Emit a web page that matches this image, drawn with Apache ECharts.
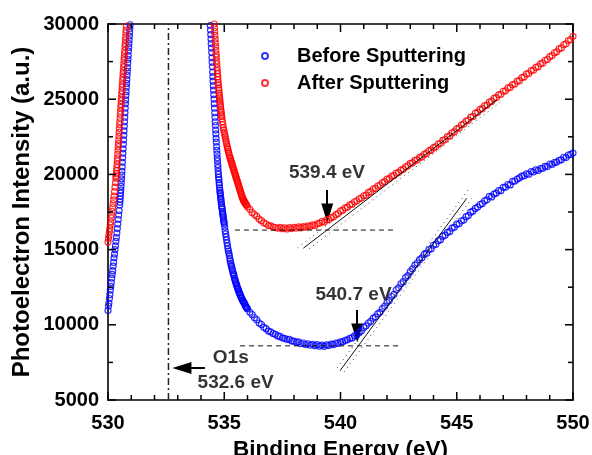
<!DOCTYPE html>
<html>
<head>
<meta charset="utf-8">
<script src="https://cdn.jsdelivr.net/npm/echarts@6/dist/echarts.min.js"></script>
<style>
html, body { margin: 0; padding: 0; background: #fff; }
#chart { width: 592px; height: 455px; }
</style>
</head>
<body>
<div id="chart"></div>
<script>
// O1s peak flanks as [eV, counts]
const beforeLeft = [
  [530.00, 10950], [530.02, 11250], [530.04, 11450], [530.06, 11750], [530.08, 12000], [530.10, 12300],
  [530.12, 12550], [530.14, 12800], [530.16, 13100], [530.18, 13350], [530.20, 13600], [530.22, 13900],
  [530.24, 14150], [530.26, 14450], [530.28, 14700], [530.30, 15000], [530.32, 15250], [530.34, 15550],
  [530.36, 15800], [530.38, 16100], [530.40, 16400], [530.42, 16700], [530.44, 17000], [530.46, 17300],
  [530.48, 17600], [530.50, 17950], [530.51, 18150], [530.52, 18350], [530.53, 18550], [530.54, 18750],
  [530.55, 18950], [530.56, 19200], [530.57, 19450], [530.58, 19700], [530.59, 19950], [530.60, 20200],
  [530.61, 20500], [530.62, 20800], [530.63, 21100], [530.64, 21400], [530.65, 21700], [530.66, 22000],
  [530.67, 22300], [530.68, 22600], [530.69, 22900], [530.70, 23200], [530.71, 23500], [530.72, 23800],
  [530.73, 24100], [530.74, 24400], [530.75, 24700], [530.76, 24950], [530.77, 25250], [530.78, 25500],
  [530.79, 25800], [530.80, 26050], [530.81, 26300], [530.82, 26600], [530.83, 26850], [530.84, 27100],
  [530.85, 27400], [530.86, 27650], [530.87, 27900], [530.88, 28200], [530.89, 28450], [530.90, 28700],
  [530.91, 28950], [530.92, 29200], [530.93, 29450], [530.94, 29700], [530.95, 29950]
];
const afterLeft = [
  [530.00, 15500], [530.02, 15750], [530.04, 15950], [530.06, 16200], [530.08, 16400], [530.10, 16650],
  [530.12, 16850], [530.14, 17100], [530.16, 17300], [530.18, 17550], [530.20, 17800], [530.22, 18050],
  [530.24, 18300], [530.26, 18550], [530.28, 18850], [530.30, 19150], [530.32, 19450], [530.34, 19750],
  [530.35, 19900], [530.36, 20050], [530.37, 20250], [530.38, 20450], [530.39, 20650], [530.40, 20900],
  [530.41, 21100], [530.42, 21350], [530.43, 21600], [530.44, 21850], [530.45, 22050], [530.46, 22300],
  [530.47, 22550], [530.48, 22800], [530.49, 23050], [530.50, 23300], [530.51, 23500], [530.52, 23750],
  [530.53, 24000], [530.54, 24200], [530.55, 24450], [530.56, 24650], [530.57, 24900], [530.58, 25100],
  [530.59, 25350], [530.60, 25550], [530.61, 25800], [530.62, 26000], [530.63, 26250], [530.64, 26450],
  [530.65, 26700], [530.66, 26900], [530.67, 27150], [530.68, 27350], [530.69, 27600], [530.70, 27800],
  [530.71, 28050], [530.72, 28250], [530.73, 28500], [530.74, 28700], [530.75, 28950], [530.76, 29150],
  [530.77, 29400], [530.78, 29600], [530.79, 29850]
];
const beforeRight = [
  [534.40, 29900], [534.41, 29600], [534.42, 29300], [534.43, 29000], [534.44, 28700], [534.45, 28400],
  [534.46, 28100], [534.47, 27750], [534.48, 27450], [534.49, 27150], [534.50, 26800], [534.51, 26500],
  [534.52, 26200], [534.53, 25900], [534.54, 25600], [534.55, 25300], [534.56, 25000], [534.57, 24700],
  [534.58, 24400], [534.59, 24100], [534.60, 23800], [534.61, 23500], [534.62, 23250], [534.63, 22950],
  [534.64, 22700], [534.65, 22400], [534.66, 22150], [534.67, 21850], [534.68, 21600], [534.69, 21350],
  [534.70, 21100], [534.71, 20900], [534.72, 20650], [534.73, 20450], [534.74, 20200], [534.75, 20000],
  [534.76, 19800], [534.77, 19650], [534.78, 19450], [534.79, 19300], [534.80, 19100], [534.81, 18950],
  [534.82, 18800], [534.83, 18700], [534.84, 18550], [534.85, 18400], [534.86, 18300], [534.87, 18150],
  [534.88, 18050], [534.89, 17900], [534.90, 17800], [534.91, 17700], [534.92, 17550], [534.93, 17450],
  [534.94, 17350], [534.95, 17250], [534.96, 17150], [534.97, 17000], [534.98, 16900], [534.99, 16800],
  [535.00, 16700], [535.02, 16500], [535.04, 16250], [535.06, 16050], [535.08, 15850], [535.10, 15650],
  [535.12, 15450], [535.14, 15250], [535.16, 15050], [535.18, 14900], [535.20, 14750], [535.22, 14600],
  [535.24, 14400], [535.26, 14250], [535.28, 14100], [535.30, 13950], [535.32, 13850], [535.34, 13700],
  [535.36, 13600], [535.38, 13450], [535.40, 13350], [535.42, 13250], [535.44, 13100], [535.46, 13000],
  [535.48, 12900], [535.50, 12800], [535.52, 12700], [535.54, 12600], [535.56, 12500], [535.58, 12400],
  [535.60, 12350], [535.62, 12250], [535.64, 12150], [535.66, 12100], [535.68, 12000], [535.70, 11950],
  [535.72, 11850], [535.74, 11800], [535.76, 11750], [535.78, 11650], [535.80, 11600], [535.82, 11550],
  [535.84, 11500], [535.86, 11450], [535.88, 11400], [535.90, 11300], [535.92, 11250], [535.94, 11200],
  [535.96, 11150], [535.98, 11100]
];
const afterRight = [
  [534.57, 30000], [534.58, 29750], [534.59, 29500], [534.60, 29250], [534.61, 29000], [534.62, 28750],
  [534.63, 28500], [534.64, 28250], [534.65, 28000], [534.66, 27800], [534.67, 27550], [534.68, 27350],
  [534.69, 27100], [534.70, 26900], [534.71, 26700], [534.72, 26500], [534.73, 26300], [534.74, 26100],
  [534.75, 25950], [534.76, 25750], [534.77, 25600], [534.78, 25400], [534.79, 25250], [534.80, 25100],
  [534.81, 24950], [534.82, 24800], [534.83, 24650], [534.84, 24500], [534.85, 24350], [534.86, 24200],
  [534.87, 24100], [534.88, 23950], [534.89, 23850], [534.90, 23700], [534.92, 23500], [534.94, 23300],
  [534.96, 23100], [534.98, 22950], [535.00, 22800], [535.02, 22650], [535.04, 22500], [535.06, 22350],
  [535.08, 22200], [535.10, 22050], [535.12, 21900], [535.14, 21750], [535.16, 21650], [535.18, 21500],
  [535.20, 21400], [535.22, 21250], [535.24, 21150], [535.26, 21050], [535.28, 20950], [535.30, 20850],
  [535.32, 20750], [535.34, 20650], [535.36, 20550], [535.38, 20450], [535.40, 20350], [535.42, 20250],
  [535.44, 20150], [535.46, 20050], [535.48, 19950], [535.50, 19850], [535.52, 19750], [535.54, 19650],
  [535.56, 19550], [535.58, 19450], [535.60, 19350], [535.62, 19250], [535.64, 19150], [535.66, 19050],
  [535.68, 18950], [535.70, 18850], [535.72, 18750], [535.74, 18650], [535.76, 18550], [535.78, 18450],
  [535.80, 18400], [535.82, 18300], [535.84, 18250], [535.86, 18200], [535.88, 18150], [535.90, 18100],
  [535.92, 18050], [535.94, 18000], [535.96, 17950]
];

// background region 536 - 550 eV
const tailEnergy = [
  536.0, 536.1, 536.2, 536.3, 536.4, 536.5, 536.6, 536.7, 536.8, 536.9,
  537.0, 537.1, 537.2, 537.3, 537.4, 537.5, 537.6, 537.7, 537.8, 537.9,
  538.0, 538.1, 538.2, 538.3, 538.4, 538.5, 538.6, 538.7, 538.8, 538.9,
  539.0, 539.1, 539.2, 539.3, 539.4, 539.5, 539.6, 539.7, 539.8, 539.9,
  540.0, 540.1, 540.2, 540.3, 540.4, 540.5, 540.6, 540.7, 540.8, 540.9,
  541.0, 541.1, 541.2, 541.3, 541.4, 541.5, 541.6, 541.7, 541.8, 541.9,
  542.0, 542.1, 542.2, 542.3, 542.4, 542.5, 542.6, 542.7, 542.8, 542.9,
  543.0, 543.1, 543.2, 543.3, 543.4, 543.5, 543.6, 543.7, 543.8, 543.9,
  544.0, 544.1, 544.2, 544.3, 544.4, 544.5, 544.6, 544.7, 544.8, 544.9,
  545.0, 545.1, 545.2, 545.3, 545.4, 545.5, 545.6, 545.7, 545.8, 545.9,
  546.0, 546.1, 546.2, 546.3, 546.4, 546.5, 546.6, 546.7, 546.8, 546.9,
  547.0, 547.1, 547.2, 547.3, 547.4, 547.5, 547.6, 547.7, 547.8, 547.9,
  548.0, 548.1, 548.2, 548.3, 548.4, 548.5, 548.6, 548.7, 548.8, 548.9,
  549.0, 549.1, 549.2, 549.3, 549.4, 549.5, 549.6, 549.7, 549.8, 549.9,
  550.0
];
const beforeTail = [
  11050, 10830, 10680, 10470, 10330, 10120, 10020, 9830, 9740, 9580,
  9530, 9420, 9370, 9260, 9230, 9120, 9100, 9020, 9040, 8930,
  8910, 8830, 8860, 8740, 8790, 8690, 8740, 8640, 8700, 8610,
  8680, 8580, 8650, 8570, 8660, 8620, 8720, 8680, 8790, 8760,
  8860, 8870, 8970, 9000, 9100, 9130, 9260, 9330, 9490, 9600,
  9820, 9930, 10120, 10230, 10430, 10530, 10730, 10830, 11080, 11230,
  11480, 11620, 11880, 12020, 12330, 12460, 12730, 12870, 13130, 13270,
  13530, 13720, 13970, 14110, 14330, 14450, 14680, 14760, 14990, 15060,
  15290, 15360, 15590, 15660, 15890, 15960, 16140, 16210, 16430, 16480,
  16690, 16720, 16900, 16960, 17190, 17260, 17490, 17560, 17740, 17830,
  18000, 18060, 18240, 18310, 18540, 18500, 18690, 18760, 18930, 18920,
  19140, 19160, 19330, 19300, 19540, 19560, 19690, 19770, 19880, 19910,
  20040, 20010, 20190, 20160, 20300, 20260, 20390, 20410, 20540, 20520,
  20690, 20660, 20790, 20820, 20940, 20970, 21140, 21120, 21290, 21330,
  21420
];
const afterTail = [
  17850, 17680, 17470, 17330, 17210, 17030, 16920, 16780, 16720, 16600,
  16580, 16500, 16470, 16420, 16480, 16390, 16440, 16370, 16460, 16400,
  16480, 16420, 16510, 16450, 16530, 16490, 16580, 16540, 16640, 16610,
  16720, 16760, 16870, 16830, 16970, 17000, 17130, 17180, 17320, 17400,
  17570, 17620, 17780, 17820, 17980, 18020, 18180, 18230, 18380, 18430,
  18580, 18620, 18800, 18850, 19030, 19070, 19230, 19290, 19450, 19520,
  19680, 19720, 19880, 19920, 20080, 20120, 20280, 20350, 20510, 20570,
  20730, 20770, 20930, 20970, 21130, 21170, 21330, 21390, 21560, 21610,
  21780, 21840, 22020, 22070, 22260, 22320, 22510, 22560, 22760, 22830,
  23030, 23080, 23290, 23350, 23550, 23600, 23810, 23850, 24080, 24130,
  24330, 24370, 24570, 24610, 24810, 24850, 25050, 25100, 25290, 25330,
  25530, 25560, 25750, 25780, 25970, 26010, 26200, 26240, 26440, 26480,
  26680, 26710, 26900, 26930, 27120, 27160, 27350, 27400, 27590, 27640,
  27830, 27900, 28090, 28150, 28350, 28410, 28620, 28680, 28900, 28960,
  29180
];

// tick values of the frame (major every 5 eV / 5000 counts)
const xTickValues = [530, 531, 532, 533, 534, 535, 536, 537, 538, 539, 540,
  541, 542, 543, 544, 545, 546, 547, 548, 549, 550];
const yTickValues = [5000, 7500, 10000, 12500, 15000, 17500, 20000, 22500, 25000, 27500, 30000];

// onset construction lines
const o1sLine = [[532.6, 5000], [532.6, 30000]];
const afterBaseline = [[535.46, 16300], [542.35, 16300]];
const afterTangent = [[538.4, 15090], [546.72, 24950]];
const afterBandUp = [[538.15, 15124], [546.9, 25492]];
const afterBandLow = [[538.65, 15056], [547.0, 24951]];
const beforeBaseline = [[535.68, 8600], [542.56, 8600]];
const beforeTangent = [[539.98, 6950], [545.43, 18410]];
const beforeBandUp = [[539.85, 7127], [545.55, 19097]];
const beforeBandLow = [[540.15, 6857], [545.65, 18407]];

const arrows = [
  [[539.43, 18963], [539.43, 17434]],
  [[540.72, 10984], [540.72, 9455]],
  [[534.17, 7128], [533.18, 7128]]
];
const annotations = [
  [539.42, 20093, '539.4 eV'],
  [540.56, 11981, '540.7 eV'],
  [535.28, 7826, 'O1s'],
  [535.49, 6164, '532.6 eV']
];

const seriesNames = ['Before Sputtering', 'After Sputtering'];
const FONT = '"Liberation Sans", Arial, sans-serif';
const INK = '#000';
const X_MIN = 530, X_MAX = 550, Y_MIN = 5000, Y_MAX = 30000;

const beforeData = beforeLeft.concat(beforeRight, tailEnergy.map((x, i) => [x, beforeTail[i]]));
const afterData = afterLeft.concat(afterRight, tailEnergy.map((x, i) => [x, afterTail[i]]));

function makeAxis(kind, position, showLabel) {
  const isX = kind === 'x';
  return {
    type: 'value',
    position: position,
    min: isX ? X_MIN : Y_MIN,
    max: isX ? X_MAX : Y_MAX,
    interval: isX ? 5 : 5000,
    axisLine: { show: true, onZero: false, lineStyle: { color: '#000', width: 1.6 } },
    axisTick: { show: false },
    minorTick: { show: false },
    splitLine: { show: false },
    axisLabel: {
      show: showLabel,
      fontSize: 20,
      fontWeight: 'bold',
      fontFamily: FONT,
      color: INK,
      margin: isX ? 13 : 9,
      formatter: v => String(v)
    }
  };
}

function guide(data, type, width, color) {
  return {
    type: 'line',
    data: data,
    symbol: 'none',
    silent: true,
    animation: false,
    lineStyle: { color: color || '#111', width: width, type: type }
  };
}

function tickLine(x1, y1, x2, y2) {
  return { type: 'line', shape: { x1: x1, y1: y1, x2: x2, y2: y2 }, style: { stroke: '#000', lineWidth: 1.5 } };
}

// inward ticks on all four sides, placed through the axes' scales
function xTicksItem(params, api) {
  const v = api.value(0);
  const len = v % 5 === 0 ? 8 : 5;
  const b = api.coord([v, Y_MIN]);
  const t = api.coord([v, Y_MAX]);
  return { type: 'group', children: [tickLine(b[0], b[1], b[0], b[1] - len), tickLine(t[0], t[1], t[0], t[1] + len)] };
}
function yTicksItem(params, api) {
  const v = api.value(1);
  const len = v % 5000 === 0 ? 8 : 5;
  const l = api.coord([X_MIN, v]);
  const r = api.coord([X_MAX, v]);
  return { type: 'group', children: [tickLine(l[0], l[1], l[0] + len, l[1]), tickLine(r[0], r[1], r[0] - len, r[1])] };
}

const chart = echarts.init(document.getElementById('chart'));

const xBottom = makeAxis('x', 'bottom', true);
xBottom.name = 'Binding Energy (eV)';
xBottom.nameLocation = 'middle';
xBottom.nameGap = 25;
xBottom.nameTextStyle = { fontSize: 22.5, fontWeight: 'bold', fontFamily: FONT, color: INK };

const yLeft = makeAxis('y', 'left', true);
yLeft.name = 'Photoelectron Intensity (a.u.)';
yLeft.nameLocation = 'middle';
yLeft.nameGap = 74;
yLeft.nameMoveOverlap = false;
yLeft.nameTextStyle = { fontSize: 24, fontWeight: 'bold', fontFamily: FONT, color: INK };

const option = {
  animation: false,
  backgroundColor: '#fff',
  grid: { left: 108, right: 19, top: 24, bottom: 55, outerBoundsMode: 'none' },
  legend: {
    data: seriesNames,
    orient: 'vertical',
    left: 256,
    top: 41,
    itemWidth: 54,
    itemHeight: 6,
    itemGap: 7,
    textStyle: { fontSize: 20, fontWeight: 'bold', fontFamily: FONT, color: INK }
  },
  xAxis: [xBottom, makeAxis('x', 'top', false)],
  yAxis: [yLeft, makeAxis('y', 'right', false)],
  series: [
    {
      name: seriesNames[0],
      type: 'scatter',
      data: beforeData,
      symbol: 'circle',
      symbolSize: 6,
      itemStyle: { color: 'rgba(0,0,0,0)', borderColor: '#0000ff', borderWidth: 1.2 }
    },
    {
      name: seriesNames[1],
      type: 'scatter',
      data: afterData,
      symbol: 'circle',
      symbolSize: 6,
      itemStyle: { color: 'rgba(0,0,0,0)', borderColor: '#ff0000', borderWidth: 1.2 }
    },
    guide(o1sLine, [7, 3, 2, 3], 1.5, '#222'),
    guide(afterBaseline, [5, 4], 1),
    guide(beforeBaseline, [5, 4], 1),
    guide(afterTangent, 'solid', 1),
    guide(beforeTangent, 'solid', 1),
    guide(afterBandUp, [1, 4], 1, '#444'),
    guide(afterBandLow, [1, 4], 1, '#444'),
    guide(beforeBandUp, [1, 4], 1, '#444'),
    guide(beforeBandLow, [1, 4], 1, '#444'),
    {
      type: 'lines',
      coordinateSystem: 'cartesian2d',
      silent: true,
      symbol: ['none', 'triangle'],
      symbolSize: [[1, 1], [12, 19]],
      lineStyle: { color: '#000', width: 2, opacity: 1, curveness: 0 },
      data: arrows.map(c => ({ coords: c }))
    },
    {
      type: 'custom',
      silent: true,
      z: 5,
      data: xTickValues.map(v => [v, Y_MIN]),
      renderItem: xTicksItem
    },
    {
      type: 'custom',
      silent: true,
      z: 5,
      data: yTickValues.map(v => [X_MIN, v]),
      renderItem: yTicksItem
    },
    {
      type: 'scatter',
      silent: true,
      symbolSize: 0,
      data: annotations,
      label: {
        show: true,
        position: 'inside',
        formatter: p => p.value[2],
        fontSize: 19,
        fontWeight: 'bold',
        fontFamily: FONT,
        color: INK
      }
    }
  ]
};

chart.setOption(option);
</script>
</body>
</html>
